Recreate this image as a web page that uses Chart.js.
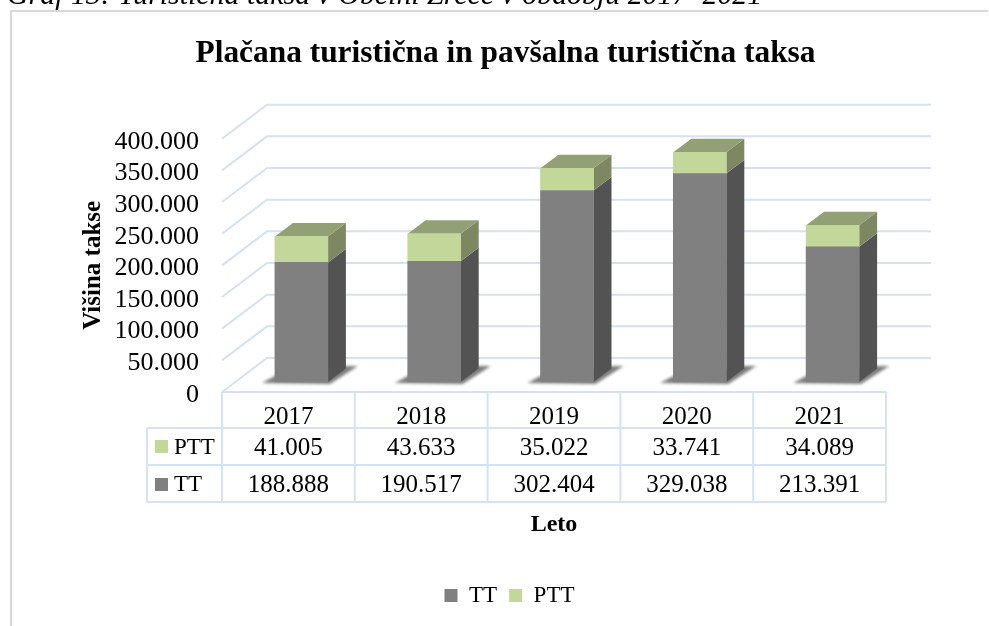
<!DOCTYPE html>
<html lang="sl">
<head>
    <meta charset="UTF-8">
    <title>Plačana turistična in pavšalna turistična taksa</title>
    <script src="https://cdn.jsdelivr.net/npm/chart.js"></script>
    <style>
        html, body { margin: 0; padding: 0; background: #fff; overflow: hidden; }
        #wrap { position: relative; width: 989px; height: 626px; overflow: hidden; }
        #chartCanvas { position: absolute; left: 0; top: 0; }
        #caption {
            position: absolute; left: 7px; top: -18px; white-space: nowrap;
            font: italic 29.9px/24px "Liberation Serif", serif; color: #000;
        }
    </style>
</head>
<body>
    <div id="wrap">
        <canvas id="chartCanvas" width="989" height="626"></canvas>
        <div id="caption">Graf 13: Turistična taksa v Občini Žreče v obdobju 2017–2021</div>
    </div>

    <script>
        const years = ['2017', '2018', '2019', '2020', '2021'];
        const ttValues = [188888, 190517, 302404, 329038, 213391];
        const pttValues = [41005, 43633, 35022, 33741, 34089];

        const serif = '"Liberation Serif", serif';
        const gridColor = '#d4e2f4';
        const frameColor = '#d9d9d9';
        const ttFront = '#808080', ttSide = '#535353';
        const pttFront = '#c4d79b', pttSide = '#7d8863', pttTop = '#939f75';

        // 3D look: how far the back wall sits from the front, and the bars from the front
        const wallDx = 45, wallDy = -34;
        const barDx = 13, barDy = -10;
        const depthDx = 18, depthDy = -13.5;

        const fmt = v => String(v).replace(/\B(?=(\d{3})+$)/g, '.');

        function poly(ctx, pts, color) {
            ctx.fillStyle = color;
            ctx.beginPath();
            pts.forEach((p, i) => i ? ctx.lineTo(p[0], p[1]) : ctx.moveTo(p[0], p[1]));
            ctx.closePath();
            ctx.fill();
        }

        function line(ctx, pts) {
            ctx.beginPath();
            pts.forEach((p, i) => i ? ctx.lineTo(p[0], p[1]) : ctx.moveTo(p[0], p[1]));
            ctx.stroke();
        }

        const scene = {
            id: 'scene',
            afterLayout(chart) {
                // legend sits a little right of the title in the original
                chart.legend.left += 4;
                chart.legend.right += 4;
            },
            beforeDraw(chart) {
                const ctx = chart.ctx;
                ctx.save();
                ctx.fillStyle = '#fff';
                ctx.fillRect(0, 0, chart.width, chart.height);
                ctx.strokeStyle = frameColor;
                ctx.lineWidth = 2;
                line(ctx, [[11, chart.height], [11, 11], [988, 11]]);
                ctx.restore();
            },
            beforeDatasetsDraw(chart) {
                const ctx = chart.ctx;
                const { left, right } = chart.chartArea;
                const y = chart.scales.y;

                // back wall and left wall lines
                ctx.save();
                ctx.strokeStyle = gridColor;
                ctx.lineWidth = 2;
                y.ticks.forEach(t => {
                    const py = y.getPixelForValue(t.value);
                    line(ctx, [[left, py], [left + wallDx, py + wallDy], [right + wallDx, py + wallDy]]);
                });
                ctx.restore();

                // bars sit part of the way into the floor, stays translated until afterDatasetsDraw
                ctx.save();
                ctx.translate(barDx, barDy);

                const tt = chart.getDatasetMeta(0).data;
                const ptt = chart.getDatasetMeta(1).data;

                // floor shadow
                tt.forEach(b => {
                    const l = b.x - b.width / 2, r = b.x + b.width / 2;
                    ctx.save();
                    ctx.filter = 'blur(1.5px)';
                    poly(ctx, [[l - 13, b.base + 1], [l, b.base - 6], [r + depthDx, b.base - 16],
                        [r + 30, b.base - 16], [r + 2, b.base + 2]], 'rgba(70,70,70,0.7)');
                    ctx.restore();
                });

                // side and top faces
                tt.forEach((b, i) => {
                    const r = b.x + b.width / 2, l = b.x - b.width / 2;
                    const p = ptt[i];
                    poly(ctx, [[r, b.base], [r + depthDx, b.base + depthDy], [r + depthDx, b.y + depthDy], [r, b.y]], ttSide);
                    poly(ctx, [[r, b.y], [r + depthDx, b.y + depthDy], [r + depthDx, p.y + depthDy], [r, p.y]], pttSide);
                    poly(ctx, [[l, p.y], [l + depthDx, p.y + depthDy], [r + depthDx, p.y + depthDy], [r, p.y]], pttTop);
                });
            },
            afterDatasetsDraw(chart) {
                chart.ctx.restore();
            },
            afterDraw(chart) {
                const ctx = chart.ctx;
                const { left, right, bottom } = chart.chartArea;
                const x = chart.scales.x;
                const rowTop = bottom + 36, rowMid = bottom + 73, rowEnd = bottom + 110;
                const labelLeft = 147;

                ctx.save();
                ctx.strokeStyle = gridColor;
                ctx.lineWidth = 2;
                line(ctx, [[left, bottom], [right, bottom]]);
                line(ctx, [[labelLeft, rowTop], [right, rowTop]]);
                line(ctx, [[labelLeft, rowMid], [right, rowMid]]);
                line(ctx, [[labelLeft, rowEnd], [right, rowEnd]]);
                line(ctx, [[labelLeft, rowTop], [labelLeft, rowEnd]]);
                years.forEach((yr, i) => {
                    const px = left + (right - left) * i / years.length;
                    line(ctx, [[px, bottom], [px, rowEnd]]);
                });
                line(ctx, [[right, bottom], [right, rowEnd]]);

                ctx.font = '25px ' + serif;
                ctx.fillStyle = '#000';
                ctx.textBaseline = 'middle';
                ctx.textAlign = 'center';
                years.forEach((yr, i) => {
                    const px = x.getPixelForValue(i);
                    ctx.fillText(fmt(pttValues[i]), px, rowTop + 20);
                    ctx.fillText(fmt(ttValues[i]), px, rowMid + 20);
                });
                ctx.font = '23px ' + serif;
                ctx.textAlign = 'left';
                ctx.fillText('PTT', 174, rowTop + 20);
                ctx.fillText('TT', 174, rowMid + 20);
                ctx.fillStyle = pttFront;
                ctx.fillRect(155, rowTop + 12, 13, 13);
                ctx.fillStyle = ttFront;
                ctx.fillRect(155, rowMid + 13, 13, 13);
                ctx.restore();
            }
        };

        new Chart(document.getElementById('chartCanvas').getContext('2d'), {
            type: 'bar',
            plugins: [scene],
            data: {
                labels: years,
                datasets: [
                    { label: 'TT', data: ttValues, backgroundColor: ttFront, clip: false },
                    { label: 'PTT', data: pttValues, backgroundColor: pttFront, clip: false }
                ]
            },
            options: {
                responsive: false,
                animation: false,
                layout: { padding: { left: 22, right: 0, top: 0, bottom: 9 } },
                datasets: { bar: { barThickness: 53, categoryPercentage: 1, barPercentage: 1 } },
                plugins: {
                    tooltip: { enabled: false },
                    title: {
                        display: true,
                        text: 'Plačana turistična in pavšalna turistična taksa',
                        color: '#000',
                        font: { family: serif, size: 31.4, weight: 'bold' },
                        padding: { top: 35, bottom: 66 }
                    },
                    legend: {
                        position: 'bottom',
                        labels: {
                            color: '#000',
                            boxWidth: 13,
                            boxHeight: 13,
                            padding: 12,
                            font: { family: serif, size: 23 }
                        }
                    }
                },
                scales: {
                    x: {
                        stacked: true,
                        grid: { display: false, drawTicks: false },
                        border: { display: false },
                        ticks: {
                            color: '#000',
                            padding: 10,
                            maxRotation: 0,
                            font: { family: serif, size: 25 }
                        },
                        title: {
                            display: true,
                            text: 'Leto',
                            color: '#000',
                            font: { family: serif, size: 24, weight: 'bold' },
                            padding: { top: 80, bottom: 33 }
                        },
                        afterFit(s) { s.height = 180; }
                    },
                    y: {
                        stacked: true,
                        min: 0,
                        max: 400000,
                        grid: { display: false, drawTicks: false },
                        border: { display: false },
                        ticks: {
                            stepSize: 50000,
                            autoSkip: false,
                            labelOffset: 3,
                            color: '#000',
                            padding: 23,
                            font: { family: serif, size: 26 },
                            callback: v => fmt(v)
                        },
                        title: {
                            display: true,
                            text: 'Višina takse',
                            color: '#000',
                            font: { family: serif, size: 25, weight: 'bold' },
                            padding: { top: 57, bottom: 0 }
                        },
                        afterFit(s) { s.width = 200; }
                    },
                    // empty axis, keeps the plot's right edge in place while the title stays centred
                    yRight: {
                        position: 'right',
                        grid: { display: false, drawTicks: false },
                        border: { display: false },
                        ticks: { display: false },
                        afterFit(s) { s.width = 103; }
                    }
                }
            }
        });
    </script>
</body>
</html>
